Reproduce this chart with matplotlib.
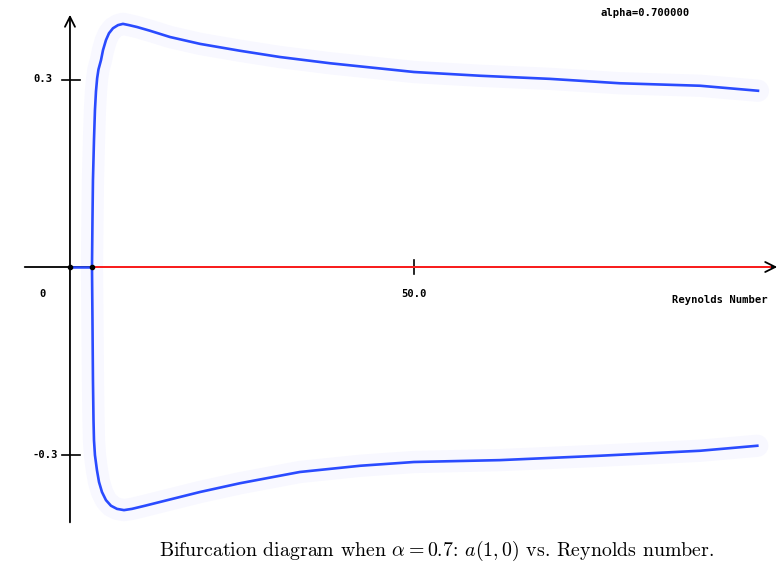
import numpy as np
import matplotlib.pyplot as plt

# upper branch of a(1,0) vs Reynolds number
re_upper = [3.2, 3.27, 3.34, 3.49, 3.63, 3.78, 3.95, 4.14, 4.51, 4.80, 5.23, 5.67, 6.25,
            6.98, 7.70, 8.58, 9.74, 11.63, 14.53, 18.9, 24.7, 30.5, 37.8, 50.0, 59.6,
            69.8, 79.9, 91.6, 100.0]
amp_upper = [0.0, 0.075, 0.139, 0.203, 0.251, 0.281, 0.302, 0.316, 0.331, 0.347, 0.363,
             0.374, 0.382, 0.387, 0.389, 0.387, 0.384, 0.378, 0.368, 0.357, 0.346, 0.336,
             0.326, 0.312, 0.306, 0.301, 0.294, 0.290, 0.282]

# lower branch
re_lower = [3.2, 3.27, 3.34, 3.42, 3.49, 3.63, 3.92, 4.22, 4.65, 5.23, 5.96, 6.83, 7.85,
            9.01, 10.9, 13.8, 18.9, 24.7, 33.4, 42.2, 50.0, 62.5, 77.0, 91.6, 99.9]
amp_lower = [0.0, -0.085, -0.181, -0.245, -0.277, -0.301, -0.325, -0.344, -0.36, -0.373,
             -0.382, -0.387, -0.389, -0.387, -0.382, -0.374, -0.36, -0.346, -0.328,
             -0.318, -0.312, -0.309, -0.302, -0.294, -0.286]

# trivial solution: stable (blue) before bifurcation, unstable (red) after
re_bif = 3.2
re_end = 101.7

plt.rcParams['mathtext.fontset'] = 'cm'

fig = plt.figure(figsize=(7.8, 5.66), dpi=100)
ax = fig.add_axes([0, 0, 1, 1])
ax.set_xlim(-10.17, 103.2)
ax.set_ylim(-0.4784, 0.4272)
ax.axis('off')

# axes with arrows
ax.annotate('', xy=(103.2, 0), xytext=(-6.98, 0),
            arrowprops=dict(arrowstyle='->', color='black', lw=1.3, mutation_scale=18))
ax.annotate('', xy=(0, 0.408), xytext=(0, -0.413),
            arrowprops=dict(arrowstyle='->', color='black', lw=1.3, mutation_scale=18))

# tick crosses
for yv in [0.3, -0.3]:
    ax.plot([-1.2, 1.45], [yv, yv], color='black', lw=1.2)
ax.plot([50, 50], [0.011, -0.011], color='black', lw=1.2)

mono = dict(family='DejaVu Sans Mono', fontsize=7.6, fontweight='bold')
ax.text(-4.0, 0.3, '0.3', ha='center', va='center', **mono)
ax.text(-3.6, -0.3, '-0.3', ha='center', va='center', **mono)
ax.text(-4.0, -0.043, '0', ha='center', va='center', **mono)
ax.text(50, -0.043, '50.0', ha='center', va='center', **mono)
ax.text(94.5, -0.053, 'Reynolds Number', ha='center', va='center', **mono)
ax.text(83.6, 0.406, 'alpha=0.700000', ha='center', va='center', **mono)

# faint halo like the scanned original
for re_v, amp_v in [(re_upper, amp_upper), (re_lower, amp_lower)]:
    ax.plot(re_v, amp_v, color='#f8f8ff', lw=16, solid_capstyle='round',
            solid_joinstyle='round', zorder=1)
    ax.plot(re_v, amp_v, color='#2a4bff', lw=1.9, solid_joinstyle='round', zorder=3)

ax.plot([0, re_bif], [0, 0], color='#2a4bff', lw=1.8, zorder=3)
ax.plot([re_bif, re_end], [0, 0], color='#ff2020', lw=1.4, zorder=3)
ax.plot([0, re_bif], [0, 0], 'o', color='black', ms=3, zorder=4)

fig.text(0.56, 0.027, r'Bifurcation diagram when $\alpha = 0.7$: $a(1,0)$ vs. Reynolds number.',
         ha='center', va='center', family='cmr10', fontsize=14.3)

plt.savefig('out.png', dpi=100)
